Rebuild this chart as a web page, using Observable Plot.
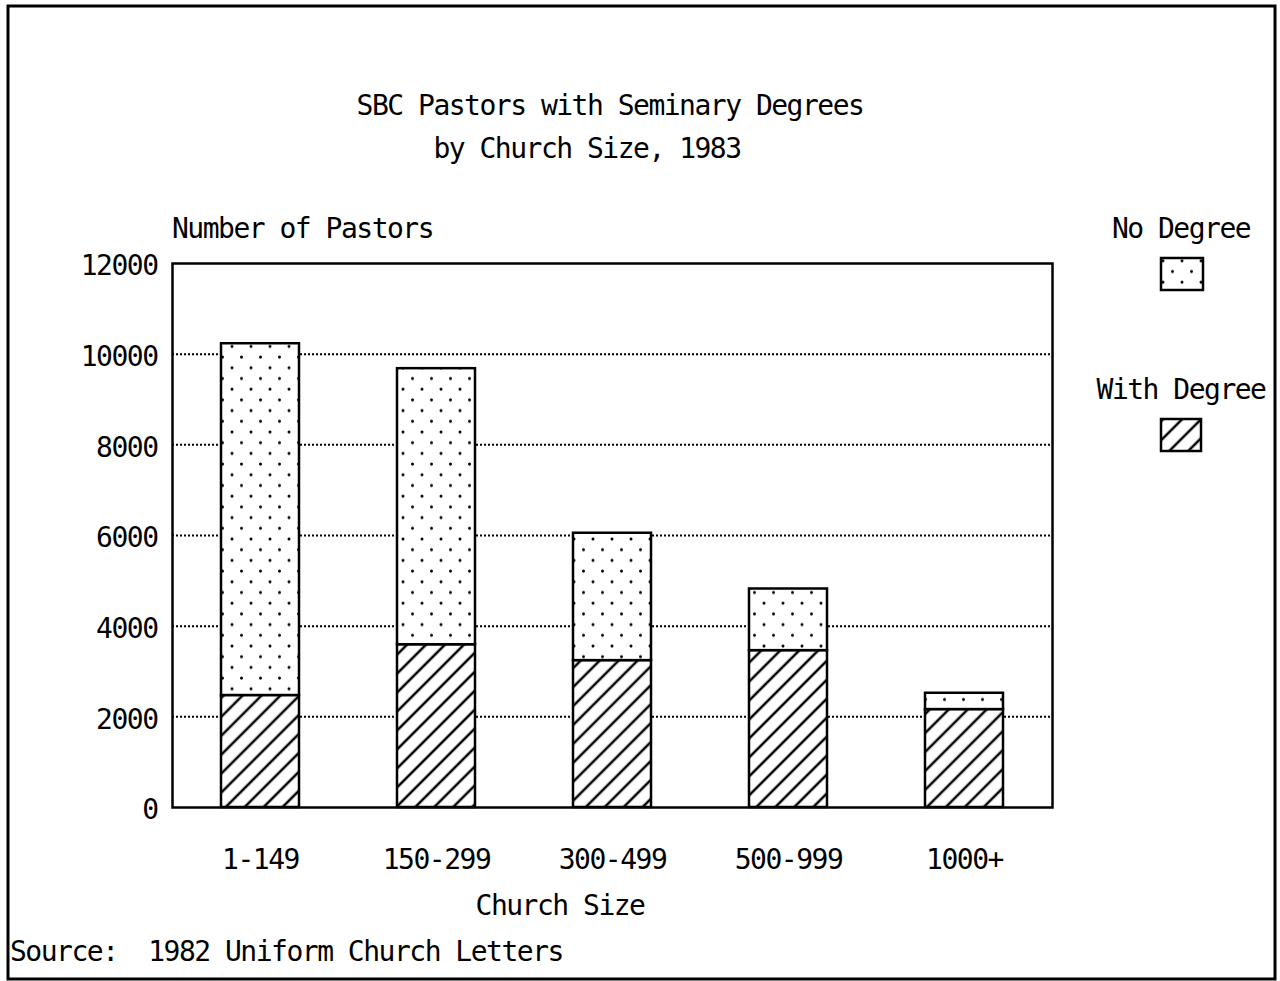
<!DOCTYPE html>
<html>
<head>
<meta charset="utf-8">
<script src="https://cdn.jsdelivr.net/npm/d3@7"></script>
<script src="https://cdn.jsdelivr.net/npm/@observablehq/plot@0.6"></script>
<style>
  html, body { margin: 0; padding: 0; background: #fff; }
  svg { display: block; }
</style>
</head>
<body>
<div id="chart"></div>
<script>
// ---- data ----
const categories = ["1-149", "150-299", "300-499", "500-999", "1000+"];
const series = ["With Degree", "No Degree"];
const withDegree = [2470, 3590, 3240, 3460, 2160];
const noDegree = [7760, 6090, 2810, 1360, 360];
const yTicks = [0, 2000, 4000, 6000, 8000, 10000, 12000];
const gridTicks = [2000, 4000, 6000, 8000, 10000];
const titleLines = ["SBC Pastors with Seminary Degrees", "by Church Size, 1983"];
const yLabel = "Number of Pastors";
const xLabel = "Church Size";
const sourceText = "Source:  1982 Uniform Church Letters";

const rows = categories.flatMap((c, i) => [
  {size: c, type: series[0], value: withDegree[i]},
  {size: c, type: series[1], value: noDegree[i]}
]);

const FONT = "'DejaVu Sans Mono', 'Liberation Mono', monospace";

const chart = Plot.plot({
  width: 1280,
  height: 981,
  marginLeft: 172,
  marginRight: 228,
  marginTop: 263,
  marginBottom: 174,
  style: {fontFamily: FONT, fontSize: "28px", letterSpacing: "-1.5px", color: "black", background: "white", overflow: "visible"},
  x: {domain: categories, paddingInner: 0.557, paddingOuter: 0.2785},
  y: {domain: [0, 12000]},
  color: {domain: series, range: ["url(#hatch)", "url(#dots)"]},
  marks: [
    Plot.gridY(gridTicks, {stroke: "black", strokeOpacity: 1, strokeWidth: 2, strokeDasharray: "2,2"}),
    Plot.barY(rows, {x: "size", y: "value", fill: "type", stroke: "black", strokeWidth: 2.5}),
    Plot.frame({stroke: "black", strokeWidth: 2.5}),
    Plot.axisY(yTicks, {tickSize: 0, tickPadding: 15, dy: 3, label: null, tickFormat: d => String(d)}),
    Plot.axisX({tickSize: 0, tickPadding: 42, label: null})
  ]
});

const svg = d3.select(chart);
const defs = svg.insert("defs", ":first-child");

// dotted pattern (No Degree)
const dots = defs.append("pattern").attr("id", "dots")
  .attr("patternUnits", "userSpaceOnUse").attr("width", 19).attr("height", 21.4);
dots.append("rect").attr("width", 19).attr("height", 21.4).attr("fill", "white");
dots.append("circle").attr("cx", 4).attr("cy", 4).attr("r", 1.5).attr("fill", "black");
dots.append("circle").attr("cx", 13.5).attr("cy", 14.7).attr("r", 1.5).attr("fill", "black");

// hatch pattern (With Degree)
const hatch = defs.append("pattern").attr("id", "hatch")
  .attr("patternUnits", "userSpaceOnUse").attr("width", 13.4).attr("height", 10)
  .attr("patternTransform", "rotate(45)");
hatch.append("rect").attr("width", 13.4).attr("height", 10).attr("fill", "white");
hatch.append("line").attr("x1", 6.7).attr("y1", -1).attr("x2", 6.7).attr("y2", 11)
  .attr("stroke", "black").attr("stroke-width", 2.5);

// outer border
svg.append("rect").attr("x", 8).attr("y", 6).attr("width", 1267).attr("height", 973)
  .attr("fill", "none").attr("stroke", "black").attr("stroke-width", 3);

const g = svg.append("g").attr("fill", "black");
g.append("text").attr("x", 610).attr("y", 115).attr("text-anchor", "middle").text(titleLines[0]);
g.append("text").attr("x", 587).attr("y", 158).attr("text-anchor", "middle").text(titleLines[1]);
g.append("text").attr("x", 172).attr("y", 238).attr("text-anchor", "start").text(yLabel);
g.append("text").attr("x", 560).attr("y", 915).attr("text-anchor", "middle").text(xLabel);
g.append("text").attr("x", 10).attr("y", 961).attr("text-anchor", "start").attr("xml:space", "preserve")
  .style("white-space", "pre").text(sourceText);

// legend
const legendItems = [
  {label: series[1], fill: "url(#dots)", ty: 238, bx: 1161, by: 258, bw: 42, bh: 32},
  {label: series[0], fill: "url(#hatch)", ty: 399, bx: 1161, by: 419, bw: 40, bh: 32}
];
legendItems.forEach(d => {
  g.append("text").attr("x", 1181).attr("y", d.ty).attr("text-anchor", "middle").text(d.label);
  svg.append("rect").attr("x", d.bx).attr("y", d.by).attr("width", d.bw).attr("height", d.bh)
    .attr("fill", d.fill).attr("stroke", "black").attr("stroke-width", 2.5);
});

document.getElementById("chart").appendChild(chart);
</script>
</body>
</html>
